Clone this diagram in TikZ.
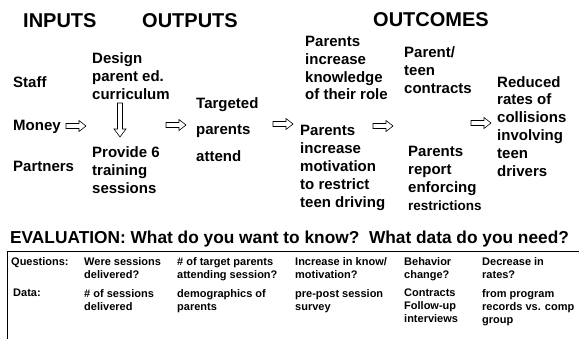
\documentclass[tikz,border=0pt]{standalone}
\usepackage{fontspec}
\setmainfont{Liberation Sans}
\usepackage{tikz}

\begin{document}
\begin{tikzpicture}[x=1pt,y=-1pt,
  head/.style={font=\bfseries\fontsize{20}{24}\selectfont, inner sep=0, anchor=north west},
  item/.style={font=\bfseries\fontsize{15}{18.3}\selectfont, align=left, inner sep=0, anchor=north west},
  cell/.style={font=\bfseries\fontsize{11}{13}\selectfont, align=left, inner sep=0, anchor=north west},
  rarr/.pic={\draw[line width=0.6pt, fill=white] (0,-2.5)--(13,-2.5)--(13,-5.5)--(20,0)--(13,5.5)--(13,2.5)--(0,2.5)--cycle;},
  darr/.pic={\draw[line width=0.6pt, fill=white] (-2.5,0)--(2.5,0)--(2.5,26)--(6,26)--(0,34)--(-6,26)--(-2.5,26)--cycle;}]
\useasboundingbox (0,0) rectangle (579,339);

\node[head] (inputs) at (23,13) {INPUTS};
\node[head] (outputs) at (142,13) {OUTPUTS};
\node[head] (outcomes) at (373,12) {OUTCOMES};

\node[item] (staff) at (13,76) {Staff};
\node[item] (money) at (13,120) {Money};
\node[item] (partners) at (13,161) {Partners};

\node[item] (design) at (92,52) {Design\\parent ed.\\curriculum};
\node[item] (provide) at (92,146) {Provide 6\\training\\sessions};
\node[item, font=\bfseries\fontsize{15}{26.5}\selectfont] (attend) at (196,97) {Targeted\\parents\\attend};

\node[item, font=\bfseries\fontsize{15}{17.8}\selectfont] (know) at (305,36) {Parents\\increase\\knowledge\\of their role};
\node[item, font=\bfseries\fontsize{15}{18}\selectfont] (motiv) at (300,125) {Parents\\increase\\motivation\\to restrict\\teen driving};

\node[item] (contract) at (404,46) {Parent/\\teen\\contracts};
\node[item, font=\bfseries\fontsize{15}{18}\selectfont] (enforce) at (408,146) {Parents\\report\\enforcing\\{\fontsize{13.5}{18}\selectfont restrictions}};

\node[item, font=\bfseries\fontsize{15}{17.8}\selectfont] (reduced) at (497,76) {Reduced\\rates of\\collisions\\involving\\teen\\drivers};

% block arrows
\pic at (66,126) {rarr};
\pic at (120,103) {darr};
\pic at (166,125) {rarr};
\pic at (273,124) {rarr};
\pic at (373,126) {rarr};
\pic at (471,123) {rarr};

\node[font=\bfseries\fontsize{17.3}{20}\selectfont, inner sep=0, anchor=north west] (eval) at (10,231) {EVALUATION: What do you want to know?\ \ What data do you need?};

\draw[line width=1pt] (579,251.5)--(7,251.5)--(7,339);

\node[cell] (q0) at (11,257) {Questions:};
\node[cell] (q1) at (84,257) {Were sessions\\delivered?};
\node[cell] (q2) at (177,257) {\# of target parents\\attending session?};
\node[cell] (q3) at (295,257) {Increase in know/\\motivation?};
\node[cell] (q4) at (404,257) {Behavior\\change?};
\node[cell] (q5) at (482,257) {Decrease in\\rates?};

\node[cell] (d0) at (13,289) {Data:};
\node[cell] (d1) at (84,289) {\# of sessions\\delivered};
\node[cell] (d2) at (177,289) {demographics of\\parents};
\node[cell] (d3) at (295,289) {pre-post session\\survey};
\node[cell] (d4) at (404,289) {Contracts\\Follow-up\\interviews};
\node[cell] (d5) at (482,289) {from program\\records vs. comp\\group};
\end{tikzpicture}
\end{document}
